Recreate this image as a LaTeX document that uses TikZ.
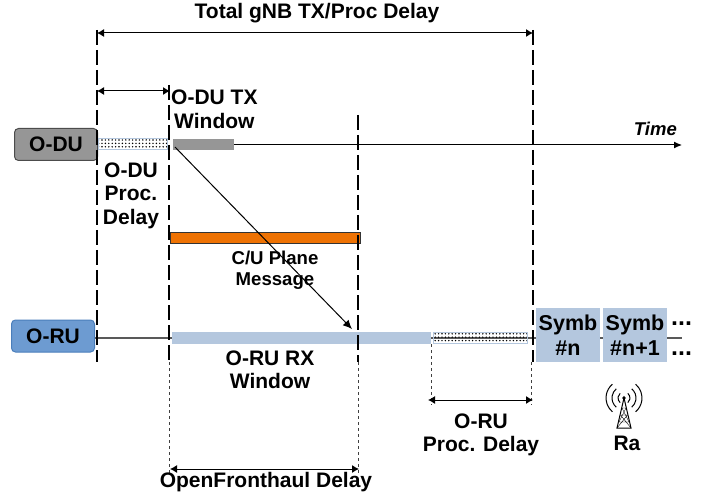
\documentclass[tikz,border=0pt]{standalone}
\usepackage{fontspec}
\setmainfont{Liberation Sans}
\usetikzlibrary{arrows.meta,patterns.meta}
\definecolor{duGray}{HTML}{969696}
\definecolor{ruBlue}{HTML}{6D9BD1}
\definecolor{ruEdge}{HTML}{4A7EBB}
\definecolor{barBlue}{HTML}{B4C7DE}
\definecolor{msgOrange}{HTML}{EE7203}
\tikzset{
  lbl/.style={font=\fontsize{21}{23.5}\bfseries\selectfont,align=center,inner sep=0pt},
  unit/.style={rounded corners=4pt,draw,line width=1pt,minimum width=83pt,minimum height=32pt,inner sep=0pt,font=\fontsize{21}{24}\bfseries\selectfont},
  bar/.style={minimum height=11pt,inner sep=0pt,anchor=west},
  dotbar/.style={bar,draw=barBlue,line width=1pt,pattern={Dots[distance=3.4pt,radius=0.8pt]},pattern color=black},
  symb/.style={fill=barBlue,minimum width=64pt,minimum height=54pt,inner sep=0pt,align=center,font=\fontsize{21.5}{25}\bfseries\selectfont},
  vdash/.style={line width=1.4pt,dash pattern=on 15pt off 5pt},
  vdot/.style={dash pattern=on 3pt off 3pt,line width=1pt,black!75},
  span/.style={line width=1pt,{Latex[length=7pt,width=8pt]}-{Latex[length=7pt,width=8pt]}}
}
\begin{document}
\begin{tikzpicture}[x=1pt,y=-1pt]
\useasboundingbox (0,0) rectangle (715,497);

% Guide ends
\coordinate (g1t) at (97,30);
\coordinate (g1b) at (97,362);
\coordinate (g2t) at (169,85);
\coordinate (g2m) at (169,362);
\coordinate (g2b) at (169,475);
\coordinate (g3t) at (358,115);
\coordinate (g3m) at (358,362);
\coordinate (g3b) at (358,475);
\coordinate (g4t) at (533,30);
\coordinate (g4m) at (533,362);
\coordinate (g5t) at (431,344);
\coordinate (g5b) at (431,405);
\coordinate (g6t) at (531,362);
\coordinate (g6b) at (531,405);

% Time axes
\coordinate (tEnd) at (682,145);
\coordinate (rEnd) at (682,338);
\node[unit,fill=duGray,draw=black!70] (odu) at (56,144.5) {O-DU};
\node[unit,fill=ruBlue,draw=ruEdge] (oru) at (53,336) {O-RU};
\node[bar,minimum width=61pt,fill=duGray] (txbar) at (173,145) {};
\draw[-{Latex[length=8pt,width=7pt]},line width=1pt] (txbar.east) -- (tEnd);
\node[above left,font=\fontsize{18.5}{22}\bfseries\itshape\selectfont,inner sep=0pt] (time) at (677,136) {Time};
\draw[line width=1.2pt,black!65] (oru.east |- rEnd) -- (rEnd);

% Bars
\node[dotbar,minimum width=69pt] (dupr) at (98,144.5) {};
\node[bar,minimum width=259pt,fill=barBlue,minimum height=12pt] (rxbar) at (172,338) {};
\node[dotbar,minimum width=94pt] (rupr) at (433,338) {};
\node[bar,minimum width=190pt,fill=msgOrange,draw=black!80,line width=1pt,minimum height=11pt] (msg) at (170,238) {};

% Symbols
\node[symb] (symn) at (568,335) {\raisebox{-3pt}{Symb}\\[0pt]\raisebox{-3pt}{\#n}};
\node[symb] (symm) at (635,335) {\raisebox{-3pt}{Symb}\\[0pt]\raisebox{-3pt}{\#n+1}};
\node[lbl,anchor=west,font=\fontsize{25}{25}\bfseries\selectfont] (dots1) at (671,324) {...};
\node[lbl,anchor=west,font=\fontsize{25}{25}\bfseries\selectfont] (dots2) at (671,354) {...};

% Guides
\draw[vdash] (g1t) -- (g1b);
\draw[vdash] (g2t) -- (g2m);
\draw[vdash] (g3t) -- (g3m);
\draw[vdash] (g4t) -- (g4m);
\draw[vdot] (g2m) -- (g2b);
\draw[vdot] (g3m) -- (g3b);
\draw[vdot] (g5t) -- (g5b);
\draw[vdot] (g6t) -- (g6b);

% Spans
\coordinate (a1) at (97,33);
\coordinate (a2) at (533,33);
\draw[span] (a1) -- (a2);
\coordinate (b1) at (97,91);
\coordinate (b2) at (170,91);
\draw[span] (b1) -- (b2);
\coordinate (c1) at (170,469);
\coordinate (c2) at (359,469);
\draw[span] (c1) -- (c2);
\coordinate (d1) at (428,400);
\coordinate (d2) at (533,400);
\draw[span] (d1) -- (d2);

% Message
\coordinate (mFrom) at (175,147);
\coordinate (mTo) at (352,329);
\draw[line width=1pt,-{Latex[length=9pt,width=8pt]}] (mFrom) -- (mTo);

% Labels
\node[lbl] (total) at (317,13) {Total gNB TX/Proc Delay};
\node[lbl,anchor=north west] (txwin) at (171,90) {O-DU TX\\Window};
\node[lbl] (duproc) at (131,195.5) {O-DU\\Proc.\\Delay};
\node[lbl,font=\fontsize{18.6}{21}\bfseries\selectfont] (msglbl) at (275,270) {C/U Plane\\Message};
\node[lbl] (rxwin) at (270,370) {O-RU RX\\Window};
\node[lbl] (ruproc) at (481,435) {O-RU\\Proc. Delay};
\node[lbl] (fh) at (266,482) {OpenFronthaul Delay};
\node[lbl] (ra) at (627,443) {Ra};

% Antenna
\coordinate (mast) at (624,398);
\coordinate (mastL) at (617,428);
\coordinate (mastR) at (631,428);
\draw[line width=1pt] (mastL) -- (mast) -- (mastR) -- cycle;
\draw (619,422) -- (629,422) (620.5,415) -- (627.5,415) (622,408) -- (626,408)
  (617,428) -- (627.5,415) (631,428) -- (620.5,415) (619,422) -- (626,408) (629,422) -- (622,408);
\fill (mast) circle (1.8pt);
\foreach \r in {6,12,18} {
  \draw[line width=1pt] ([shift={(-50:\r)}]mast) arc (-50:50:\r);
  \draw[line width=1pt] ([shift={(130:\r)}]mast) arc (130:230:\r);
}
\end{tikzpicture}
\end{document}
